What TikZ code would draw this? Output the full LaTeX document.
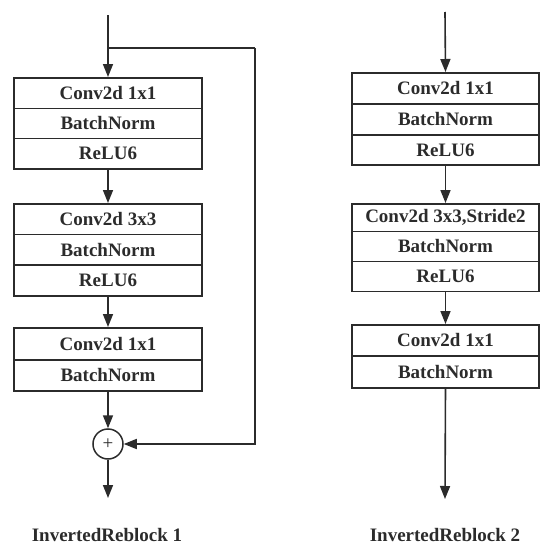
\documentclass[tikz,border=0pt]{standalone}
\usepackage{fontspec}
\setmainfont{Liberation Serif}
\usetikzlibrary{arrows.meta}
\definecolor{ink}{HTML}{2B2B2B}
\begin{document}
\begin{tikzpicture}[x=1pt,y=-1pt,
  row/.style={draw=ink,line width=1.8pt,minimum width=188pt,anchor=north,inner sep=0pt,
    font=\fontsize{19}{20}\selectfont\bfseries,text=ink},
  flow/.style={draw=ink,line width=1.6pt,-{Triangle[length=13pt,width=10pt]}},
  lbl/.style={font=\fontsize{19}{20}\selectfont\bfseries,text=ink}]
\useasboundingbox (0,0) rectangle (550,549);
% left block
\coordinate (lin) at (108,15);
\coordinate (lj) at (108,48);
\coordinate (lr) at (255,48);
\node[row,minimum height=30.5pt] (l1a) at (108,77) {Conv2d 1x1};
\node[row,minimum height=30pt] (l1b) at (108,107.5) {BatchNorm};
\node[row,minimum height=30.5pt] (l1c) at (108,137.5) {ReLU6};
\node[row,minimum height=30.5pt] (l2a) at (108,203) {Conv2d 3x3};
\node[row,minimum height=30.5pt] (l2b) at (108,233.5) {BatchNorm};
\node[row,minimum height=31pt] (l2c) at (108,264) {ReLU6};
\node[row,minimum height=32pt] (l3a) at (108,327) {Conv2d 1x1};
\node[row,minimum height=31pt] (l3b) at (108,359) {BatchNorm};
\node[draw=ink,line width=1.5pt,circle,minimum size=30pt,inner sep=0pt,font=\fontsize{19}{19}\selectfont,text=ink] (add) at (108,444) {+};
\coordinate (lout) at (108,498);
\node[lbl] (lt) at (107,535) {InvertedReblock 1};
\draw[flow] (lin) -- (l1a.north);
\draw[draw=ink,line width=1.6pt] (lj) -- (lr);
\draw[flow] (lr) |- (add.east);
\draw[flow] (l1c.south) -- (l2a.north);
\draw[flow] (l2c.south) -- (l3a.north);
\draw[flow] (l3b.south) -- (add.north);
\draw[flow] (add.south) -- (lout);
% right block
\coordinate (rin) at (445,12);
\node[row,minimum width=187pt,minimum height=31pt] (r1a) at (445.5,72) {Conv2d 1x1};
\node[row,minimum width=187pt,minimum height=31pt] (r1b) at (445.5,103) {BatchNorm};
\node[row,minimum width=187pt,minimum height=30pt] (r1c) at (445.5,134) {ReLU6};
\node[row,minimum width=187pt,minimum height=27.5pt] (r2a) at (445.5,203) {Conv2d 3x3,Stride2};
\node[row,minimum width=187pt,minimum height=30pt] (r2b) at (445.5,230.5) {BatchNorm};
\node[row,minimum width=187pt,minimum height=30pt] (r2c) at (445.5,260.5) {ReLU6};
\node[row,minimum width=187pt,minimum height=31pt] (r3a) at (445.5,324) {Conv2d 1x1};
\node[row,minimum width=187pt,minimum height=32pt] (r3b) at (445.5,355) {BatchNorm};
\coordinate (rout) at (445,499);
\node[lbl] (rt) at (445,535) {InvertedReblock 2};
\draw[flow] (rin) -- (r1a.north);
\draw[flow] (r1c.south) -- (r2a.north);
\draw[flow] (r2c.south) -- (r3a.north);
\draw[flow] (r3b.south) -- (rout);
\end{tikzpicture}
\end{document}
